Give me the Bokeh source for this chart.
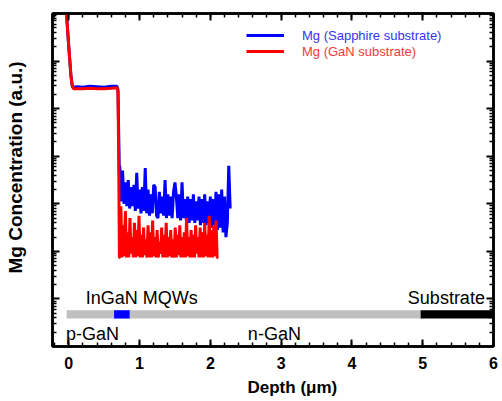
import math
from bokeh.plotting import figure
from bokeh.models import (Range1d, LinearAxis, FixedTicker, SingleIntervalTicker,
                          Label, Legend, LegendItem, Title)
from bokeh.embed import file_html
from bokeh.resources import INLINE

# ---------------- data (depth in um, Mg level in decades of a.u.) ----------------
red_profile_depth = [-0.04, 0.00, 0.03, 0.05, 0.07, 0.12, 0.20, 0.30, 0.40, 0.50, 0.60, 0.68, 0.695, 0.705, 0.715]
red_profile_level = [7.15, 6.30, 5.70, 5.46, 5.42, 5.42, 5.42, 5.43, 5.42, 5.42, 5.43, 5.44, 5.35, 4.00, 1.87]

blue_profile_depth = [-0.04, 0.00, 0.03, 0.05, 0.07, 0.12, 0.20, 0.30, 0.40, 0.50, 0.60, 0.68, 0.695, 0.705, 0.715]
blue_profile_level = [7.15, 6.30, 5.70, 5.47, 5.45, 5.46, 5.45, 5.47, 5.46, 5.45, 5.47, 5.47, 5.40, 4.50, 3.60]

red_noise_depth = [
    0.720, 0.736, 0.752, 0.768, 0.784, 0.800, 0.816, 0.832, 0.848, 0.864,
    0.880, 0.896, 0.912, 0.928, 0.944, 0.960, 0.976, 0.992, 1.008, 1.024,
    1.040, 1.056, 1.072, 1.088, 1.104, 1.120, 1.136, 1.152, 1.168, 1.184,
    1.200, 1.216, 1.232, 1.248, 1.264, 1.280, 1.296, 1.312, 1.328, 1.344,
    1.360, 1.376, 1.392, 1.408, 1.424, 1.440, 1.456, 1.472, 1.488, 1.504,
    1.520, 1.536, 1.552, 1.568, 1.584, 1.600, 1.616, 1.632, 1.648, 1.664,
    1.680, 1.696, 1.712, 1.728, 1.744, 1.760, 1.776, 1.792, 1.808, 1.824,
    1.840, 1.856, 1.872, 1.888, 1.904, 1.920, 1.936, 1.952, 1.968, 1.984,
    2.000, 2.016, 2.032, 2.048, 2.064, 2.080, 2.096, 2.112]
red_noise_level = [
    1.87, 2.95, 1.87, 2.55, 1.90, 2.85, 1.87, 2.40, 1.87, 2.70,
    1.95, 2.30, 1.87, 2.60, 1.87, 2.45, 1.90, 2.75, 1.87, 2.35,
    1.87, 2.50, 1.92, 2.25, 1.87, 2.55, 1.87, 2.40, 1.87, 2.65,
    1.90, 2.30, 1.87, 2.45, 1.87, 2.20, 1.95, 2.50, 1.87, 2.35,
    1.87, 2.60, 1.87, 2.30, 1.90, 2.45, 1.87, 2.25, 1.87, 2.50,
    1.87, 2.35, 1.92, 2.55, 1.87, 2.30, 1.87, 2.40, 1.87, 2.70,
    1.90, 2.30, 1.87, 2.45, 1.87, 2.35, 1.87, 2.55, 1.95, 2.30,
    1.87, 2.50, 1.87, 2.40, 1.87, 2.60, 1.90, 2.35, 1.87, 2.75,
    1.87, 2.45, 1.87, 2.55, 1.90, 2.65, 1.87, 1.87]

blue_noise_depth = [
    0.72, 0.74, 0.76, 0.78, 0.80, 0.82, 0.84, 0.86, 0.88, 0.90,
    0.92, 0.94, 0.96, 0.98, 1.00, 1.02, 1.04, 1.06, 1.08, 1.10,
    1.12, 1.14, 1.16, 1.18, 1.20, 1.22, 1.24, 1.26, 1.28, 1.30,
    1.32, 1.34, 1.36, 1.38, 1.40, 1.42, 1.44, 1.46, 1.48, 1.50,
    1.52, 1.54, 1.56, 1.58, 1.60, 1.62, 1.64, 1.66, 1.68, 1.70,
    1.72, 1.74, 1.76, 1.78, 1.80, 1.82, 1.84, 1.86, 1.88, 1.90,
    1.92, 1.94, 1.96, 1.98, 2.00, 2.02, 2.04, 2.06, 2.08, 2.10,
    2.12, 2.14, 2.16, 2.18, 2.20, 2.22, 2.24, 2.26, 2.28]
blue_noise_level = [
    3.80, 3.05, 3.70, 3.00, 3.45, 2.95, 3.50, 2.90, 3.35, 2.95,
    3.40, 2.85, 3.65, 2.90, 3.30, 2.80, 3.35, 2.85, 3.75, 2.80,
    3.30, 2.75, 3.20, 2.80, 3.40, 3.35, 2.75, 2.70, 3.25, 2.80,
    3.15, 2.75, 3.50, 2.70, 3.20, 2.75, 3.15, 2.70, 3.25, 3.45,
    3.15, 2.70, 3.20, 2.65, 3.45, 2.70, 3.10, 2.65, 3.15, 2.60,
    3.10, 2.65, 3.20, 2.60, 3.05, 2.65, 3.15, 2.55, 3.10, 2.60,
    3.20, 2.55, 3.05, 2.60, 3.15, 2.50, 3.10, 2.55, 3.25, 2.45,
    3.20, 2.50, 3.30, 2.40, 3.15, 2.30, 2.60, 3.80, 2.90]

# layer structure bar
layer_names = ["GaN", "InGaN MQWs", "Substrate"]
layer_start = [-0.03, 0.64, 4.97]
layer_end = [4.97, 0.86, 6.00]
layer_colors = ["#c0c0c0", "#0000ff", "#000000"]

x_ticks = [0, 1, 2, 3, 4, 5, 6]
series_names = ["Mg (Sapphire substrate)", "Mg (GaN substrate)"]

# ---------------- figure ----------------
FONT = "Liberation Sans"
p = figure(width=502, height=401, output_backend="svg", toolbar_location=None,
           x_range=Range1d(-0.23, 6.0), y_range=Range1d(0, 7),
           min_border_left=52, min_border_right=9, min_border_top=13, min_border_bottom=55)
p.grid.visible = False
p.outline_line_color = "black"
p.outline_line_width = 2.5
p.background_fill_color = "white"

y_major = [1, 2, 3, 4, 5, 6]
y_minor = [k + math.log10(m) for k in range(7) for m in range(2, 10)]


def style_axis(ax, show_labels):
    ax.axis_line_width = 2.5
    ax.axis_line_color = "black"
    ax.major_tick_in = 7
    ax.major_tick_out = 0
    ax.minor_tick_in = 4
    ax.minor_tick_out = 0
    ax.major_tick_line_width = 2
    ax.minor_tick_line_width = 1.5
    if show_labels:
        ax.major_label_text_font = FONT
        ax.major_label_text_font_style = "bold"
        ax.major_label_text_font_size = "16px"
        ax.major_label_text_color = "black"
        ax.major_label_standoff = 10
    else:
        ax.major_label_text_font_size = "0px"
        ax.major_label_text_color = None
        ax.major_label_standoff = 0


p.xaxis.ticker = SingleIntervalTicker(interval=1, num_minor_ticks=5)
style_axis(p.xaxis[0], True)
p.yaxis.ticker = FixedTicker(ticks=y_major, minor_ticks=y_minor)
style_axis(p.yaxis[0], False)

top_ax = LinearAxis(ticker=SingleIntervalTicker(interval=1, num_minor_ticks=5))
style_axis(top_ax, False)
p.add_layout(top_ax, "above")
right_ax = LinearAxis(ticker=FixedTicker(ticks=y_major, minor_ticks=y_minor))
style_axis(right_ax, False)
p.add_layout(right_ax, "right")

# axis titles as side titles (offset along the axis)
p.add_layout(Title(text="Depth (\u03bcm)", align="left", offset=195, standoff=9,
                   text_font=FONT, text_font_size="17px", text_font_style="bold",
                   text_color="black"), "below")
# blank spacer panel pushes the y title outward, toward the page edge
p.add_layout(Title(text=" ", standoff=12, text_font=FONT, text_font_size="10px",
                   text_color="white"), "left")
p.add_layout(Title(text="Mg Concentration (a.u.)", align="left", offset=73, standoff=2,
                   vertical_align="middle",
                   text_font=FONT, text_font_size="19px", text_font_style="bold",
                   text_color="black"), "left")

# layer bar
p.quad(left=layer_start, right=layer_end, bottom=0.59, top=0.76, color=layer_colors, line_color=None)

# curves
blue_r = p.line(blue_profile_depth + blue_noise_depth, blue_profile_level + blue_noise_level,
                line_color="#0000ff", line_width=3)
red_r = p.line(red_profile_depth + red_noise_depth, red_profile_level + red_noise_level,
               line_color="#ff0000", line_width=3)

# legends (separate so each text has its own colour)
for r, name, col, ly in [(blue_r, series_names[0], "#3535ee", 303), (red_r, series_names[1], "#f03a3a", 287)]:
    lg = Legend(items=[LegendItem(label=name, renderers=[r])], location=(194, ly),
                glyph_width=38, glyph_height=16, label_height=16, label_standoff=18,
                padding=0, margin=0, spacing=0, border_line_color=None,
                background_fill_alpha=0, label_text_font=FONT, label_text_font_size="13px",
                label_text_color=col)
    p.add_layout(lg, "center")

# text annotations
for txt, x, y in [("InGaN MQWs", 0.24, 1.03), ("p-GaN", -0.04, 0.27),
                  ("n-GaN", 2.53, 0.27), ("Substrate", 4.79, 1.03)]:
    p.add_layout(Label(x=x, y=y, text=txt, text_font=FONT, text_font_size="18px",
                       text_color="black", text_align="left", text_baseline="middle"))

open("out.html", "w").write(file_html(p, INLINE))
